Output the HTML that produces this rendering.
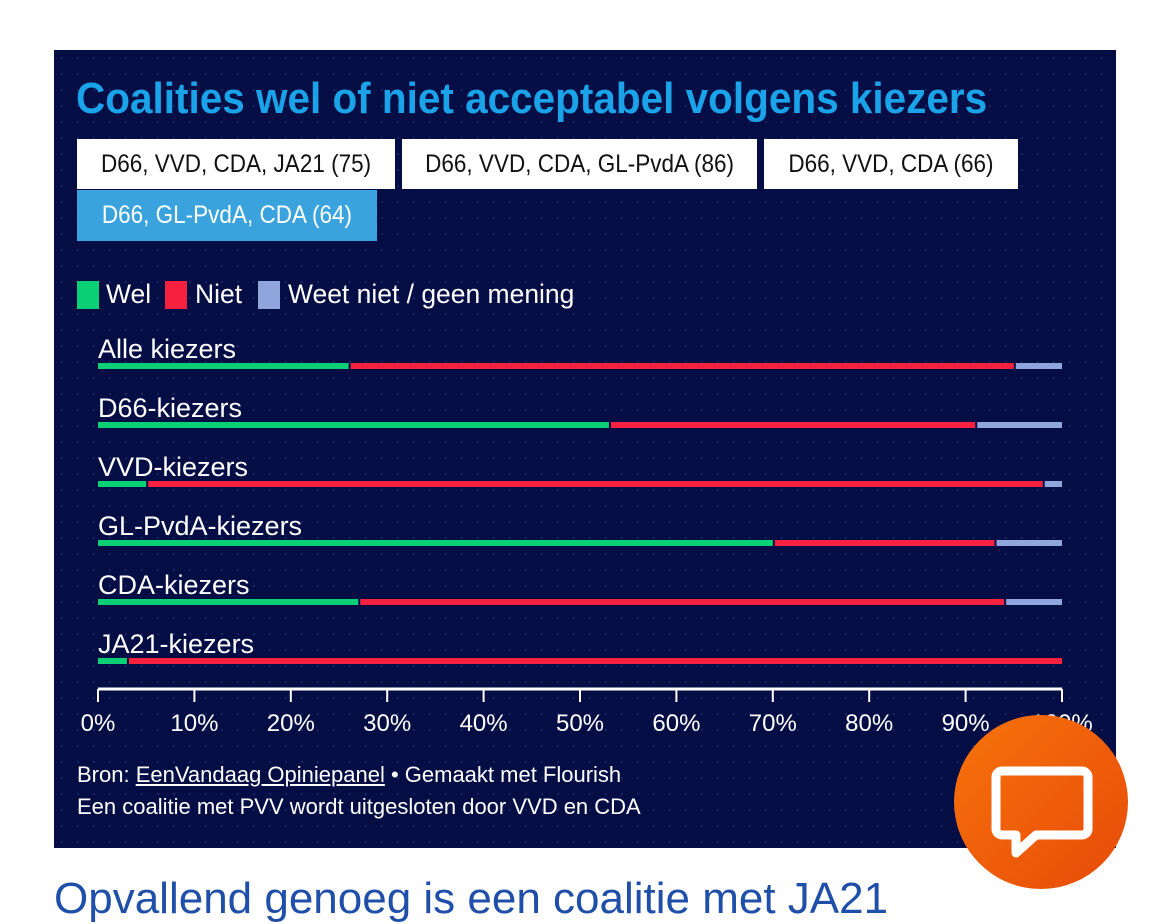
<!DOCTYPE html>
<html><head><meta charset="utf-8">
<style>
body{margin:0;width:1170px;height:884px;overflow:hidden;background:#fff;font-family:"Liberation Sans Narrow","Liberation Sans",sans-serif;position:relative}
#panel{position:absolute;left:54px;top:50px;width:1062px;height:798px;background:#050d45;
background-image:radial-gradient(circle,#1a2366 1px,transparent 1.3px);background-size:16px 16px}
.t{position:absolute;white-space:nowrap}
#title{left:22px;top:24px;font-size:44px;font-weight:bold;color:#1aa3e8;transform:scaleX(0.92);transform-origin:left top}
.btn{position:absolute;height:50px;background:#fff;color:#111;font-size:25px;line-height:50px;text-align:center}
.btn span{display:inline-block;transform:scaleX(0.9)}
.btn.on{background:#3aa3dd;color:#fff}
.lg{position:absolute;top:231px;width:22px;height:28px}
.lt{position:absolute;top:229px;font-size:27px;color:#fff;transform:scaleX(0.98);transform-origin:left top}
#bottomtext{position:absolute;left:54px;top:874px;font-size:44px;color:#1f4fa8;white-space:nowrap}
#fab{position:absolute;left:954px;top:715px;width:174px;height:174px;border-radius:50%;background:linear-gradient(135deg,#f8730c,#e64a08)}
</style></head><body>
<div id="panel">
 <div id="title" class="t">Coalities wel of niet acceptabel volgens kiezers</div>
 <div class="btn" style="left:23px;top:89px;width:318px"><span>D66, VVD, CDA, JA21 (75)</span></div>
 <div class="btn" style="left:348px;top:89px;width:355px"><span>D66, VVD, CDA, GL-PvdA (86)</span></div>
 <div class="btn" style="left:710px;top:89px;width:254px"><span>D66, VVD, CDA (66)</span></div>
 <div class="btn on" style="left:23px;top:140px;width:300px;height:51px"><span>D66, GL-PvdA, CDA (64)</span></div>
 <div class="lg" style="left:23px;background:#0bcf74"></div>
 <div class="lt" style="left:52px">Wel</div>
 <div class="lg" style="left:111px;background:#f5213f"></div>
 <div class="lt" style="left:141px">Niet</div>
 <div class="lg" style="left:204px;background:#8fa6dc"></div>
 <div class="lt" style="left:234px">Weet niet / geen mening</div>
 <svg id="chart" width="1062" height="710" style="position:absolute;left:0;top:0"></svg>
 <div class="t" style="left:23px;top:712px;font-size:22px;color:#fff">Bron: <u>EenVandaag Opiniepanel</u> • Gemaakt met Flourish</div>
 <div class="t" style="left:23px;top:744px;font-size:22px;color:#fff">Een coalitie met PVV wordt uitgesloten door VVD en CDA</div>
</div>
<div id="bottomtext">Opvallend genoeg is een coalitie met JA21</div>
<div id="fab">
 <svg width="174" height="174" viewBox="0 0 174 174"><path d="M48 56 h80 a6 6 0 0 1 6 6 v52 a6 6 0 0 1 -6 6 h-46 l-20 18 v-18 h-14 a6 6 0 0 1 -6 -6 v-52 a6 6 0 0 1 6 -6z" fill="none" stroke="#fff" stroke-width="9" stroke-linejoin="round"/></svg>
</div>
<script>
const categories=["Alle kiezers","D66-kiezers","VVD-kiezers","GL-PvdA-kiezers","CDA-kiezers","JA21-kiezers"];
const wel=[26,53,5,70,27,3];
const niet=[69,38,93,23,67,97];
const weet=[5,9,2,7,6,0];
const ticks=[0,10,20,30,40,50,60,70,80,90,100];
const colors=["#0bcf74","#f5213f","#8fa6dc"];
const svg=document.getElementById('chart');
const NS="http://www.w3.org/2000/svg";
const x0=44,x1=1008;
const xs=v=>x0+(x1-x0)*v/100;
const rowY=i=>316+i*59;
function mk(t,a){const e=document.createElementNS(NS,t);for(const k in a)e.setAttribute(k,a[k]);svg.appendChild(e);return e;}
categories.forEach((c,i)=>{
  const y=rowY(i);
  const lab=mk('text',{x:x0,y:y-8,fill:'#fff','font-size':27,'font-family':'"Liberation Sans Narrow","Liberation Sans",sans-serif'});
  lab.textContent=c;
  
  
  const vals=[wel[i],niet[i],weet[i]];let acc=0;
  vals.forEach((v,j)=>{
    if(v<=0){return;}
    const a=xs(acc)+(acc>0?2:0),b=xs(acc+v);
    const r=mk('rect',{x:a,y:y-3,width:Math.max(0,b-a),height:6,fill:colors[j]});
    
    
    acc+=v;
  });
});
const ax=mk('line',{x1:x0,x2:x1,y1:639,y2:639,stroke:'#fff','stroke-width':3});


ticks.forEach(t=>{
  const tk=mk('line',{x1:xs(t),x2:xs(t),y1:639,y2:652,stroke:'#fff','stroke-width':2});
  
  
  const tl=mk('text',{x:xs(t),y:681,fill:'#fff','font-size':24,'text-anchor':'middle','font-family':'"Liberation Sans Narrow","Liberation Sans",sans-serif'});
  tl.textContent=t+'%';
  
  
});
</script>
</body></html>
